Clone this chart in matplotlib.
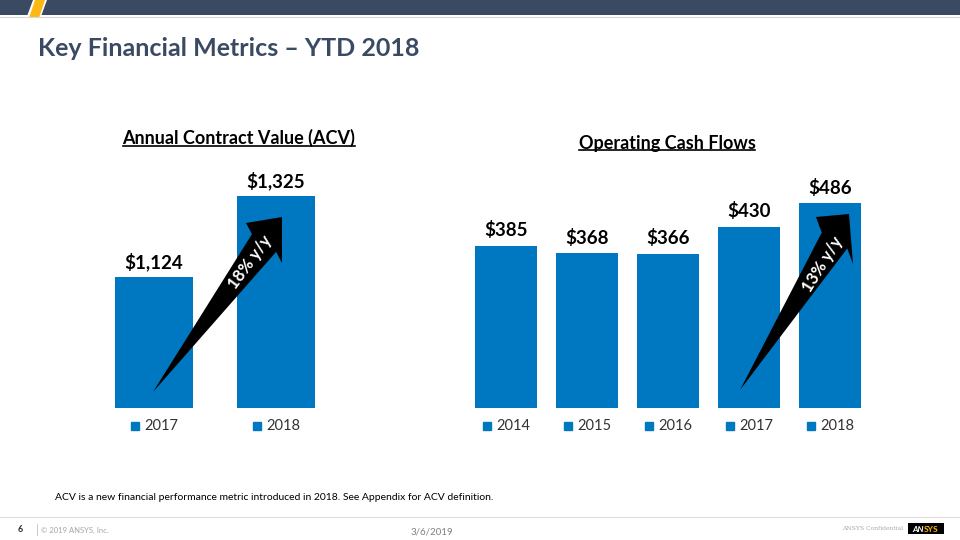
import matplotlib
matplotlib.use("Agg")
import numpy as np
import matplotlib.pyplot as plt
from matplotlib.patches import Polygon, Rectangle
from matplotlib.lines import Line2D
from matplotlib.transforms import offset_copy

plt.rcParams['font.family'] = ['Lato', 'DejaVu Sans']

# ---- data ----
acv_years = ["2017", "2018"]
acv_values = [1124, 1325]
acv_labels = ["$1,124", "$1,325"]

ocf_years = ["2014", "2015", "2016", "2017", "2018"]
ocf_values = [385, 368, 366, 430, 486]
ocf_labels = ["$385", "$368", "$366", "$430", "$486"]

BLUE = "#0077C1"
NAVY = "#3B4A63"

W, H = 960, 540
fig = plt.figure(figsize=(9.6, 5.4), dpi=100)


def P(x, y):
    return (x / W, 1 - y / H)


# ---- header ----
fig.add_artist(Rectangle(P(0, 15), 1, 15 / H, transform=fig.transFigure,
                         facecolor=NAVY, edgecolor="none"))
fig.add_artist(Line2D([0, 1], [1 - 17 / H] * 2, transform=fig.transFigure,
                      color="#D9D9D9", lw=0.8))
fig.add_artist(Polygon([P(26, 19), P(33, 0), P(47, 0), P(40, 19)], closed=True,
                       transform=fig.transFigure, facecolor="white", edgecolor="none"))
fig.add_artist(Polygon([P(29, 18), P(35, 0), P(45, 0), P(39, 18)], closed=True,
                       transform=fig.transFigure, facecolor="#FDB913", edgecolor="none"))
fig.text(38 / W, 1 - 48 / H, "Key Financial Metrics \u2013 YTD 2018", fontsize=18,
         fontweight="bold", color=NAVY, va="center", ha="left")

# ---- axes ----
axL = fig.add_axes([93 / W, 132 / H, 244 / W, 258 / H])
axR = fig.add_axes([465.5 / W, 132 / H, 405 / W, 258 / H])


def draw(ax, cats, vals, labels, width, ylim):
    x = list(range(len(cats)))
    ax.bar(x, vals, width=width, color=BLUE, zorder=2)
    ax.set_xlim(-0.5, len(cats) - 0.5)
    ax.set_ylim(*ylim)
    for xi, v, lab in zip(x, vals, labels):
        ax.annotate(lab, (xi, v), xytext=(0, 11), textcoords="offset points",
                    ha="center", va="center", fontsize=13.5, fontweight="bold",
                    color="black")
    for s in ax.spines.values():
        s.set_visible(False)
    ax.set_xticks([])
    ax.set_yticks([])
    # legend entries
    tr = ax.get_xaxis_transform()
    tr_sq = offset_copy(tr, fig=fig, x=-19, y=0, units="dots")
    tr_tx = offset_copy(tr, fig=fig, x=-10, y=0, units="dots")
    for xi, c in zip(x, cats):
        ax.plot([xi], [-0.07], marker="s", markersize=6, color=BLUE,
                transform=tr_sq, clip_on=False, linestyle="none")
        ax.text(xi, -0.07, c, transform=tr_tx, ha="left", va="center",
                fontsize=10.5, color="#333333", clip_on=False)


draw(axL, acv_years, acv_values, acv_labels, 0.64, (799, 1439))
draw(axR, ocf_years, ocf_values, ocf_labels, 0.765, (0, 612))

# chart titles (underlined)
t1 = fig.text(239 / W, 1 - 138 / H, "Annual Contract Value (ACV)", fontsize=13,
              fontweight="bold", ha="center", va="center", color="black")
t2 = fig.text(667 / W, 1 - 143 / H, "Operating Cash Flows", fontsize=13,
              fontweight="bold", ha="center", va="center", color="black")
fig.canvas.draw()
r = fig.canvas.get_renderer()
for t in (t1, t2):
    bb = t.get_window_extent(r).transformed(fig.transFigure.inverted())
    fig.add_artist(Line2D([bb.x0, bb.x1], [bb.y0 + 1.5 / H] * 2,
                          transform=fig.transFigure, color="black", lw=1.2))


# ---- growth arrows ----
def arrow(tail, tip, c1, c2, shaft_half, text, tpos, angle):
    tail = np.array(tail, float)
    tip = np.array(tip, float)
    c1 = np.array(c1, float)
    c2 = np.array(c2, float)
    d = tip - tail
    d /= np.linalg.norm(d)
    n = np.array([-d[1], d[0]])
    base = (c1 + c2) / 2
    s1 = base + n * shaft_half
    s2 = base - n * shaft_half
    if np.dot(c1 - base, n) < 0:
        c1, c2 = c2, c1
    pts = [tail, s1, c1, tip, c2, s2]
    fig.add_artist(Polygon([P(*p) for p in pts], closed=True,
                           transform=fig.transFigure, facecolor="black",
                           edgecolor="none", zorder=5))
    fig.text(tpos[0] / W, 1 - tpos[1] / H, text, rotation=angle, ha="center",
             va="center", color="white", fontsize=12, fontweight="bold",
             zorder=6, rotation_mode="anchor")


arrow((153, 392), (282, 217), (246, 223), (282, 263), 15, "18% y/y", (250, 262), 53.5)
arrow((740, 390), (849, 214), (816, 217), (853, 264), 15, "13% y/y", (823, 264), 58)

# ---- footnote & footer ----
fig.text(55 / W, 1 - 497 / H,
         "ACV is a new financial performance metric introduced in 2018. See Appendix for ACV definition.",
         fontsize=7.5, ha="left", va="center", color="black")
fig.add_artist(Line2D([0, 1], [1 - 517 / H] * 2, transform=fig.transFigure,
                      color="#E0E0E0", lw=0.8))
fig.text(18 / W, 1 - 530 / H, "6", fontsize=6.5, fontweight="bold", color="#333333",
         ha="left", va="center")
fig.add_artist(Line2D([37 / W] * 2, [1 - 524 / H, 1 - 535 / H], transform=fig.transFigure,
                      color="#BFBFBF", lw=0.6))
fig.text(41 / W, 1 - 530 / H, "\u00a9 2019 ANSYS, Inc.", fontsize=5.5, color="#A6A6A6",
         ha="left", va="center")
fig.text(432 / W, 1 - 532 / H, "3/6/2019", fontsize=7, color="#808080",
         ha="center", va="center")
fig.text(903 / W, 1 - 529 / H, "ANSYS Confidential", fontsize=4.3, color="#A6A6A6",
         ha="right", va="center", family="DejaVu Serif")
fig.add_artist(Rectangle(P(908, 534), 36 / W, 11 / H, transform=fig.transFigure,
                         facecolor="black", edgecolor="none"))
fig.text(912 / W, 1 - 529 / H, "AN", fontsize=6, fontweight="bold", color="white",
         ha="left", va="center", style="italic")
fig.text(924 / W, 1 - 529 / H, "SYS", fontsize=6, fontweight="bold", color="#FDB913",
         ha="left", va="center")

fig.savefig("out.png", dpi=100)
